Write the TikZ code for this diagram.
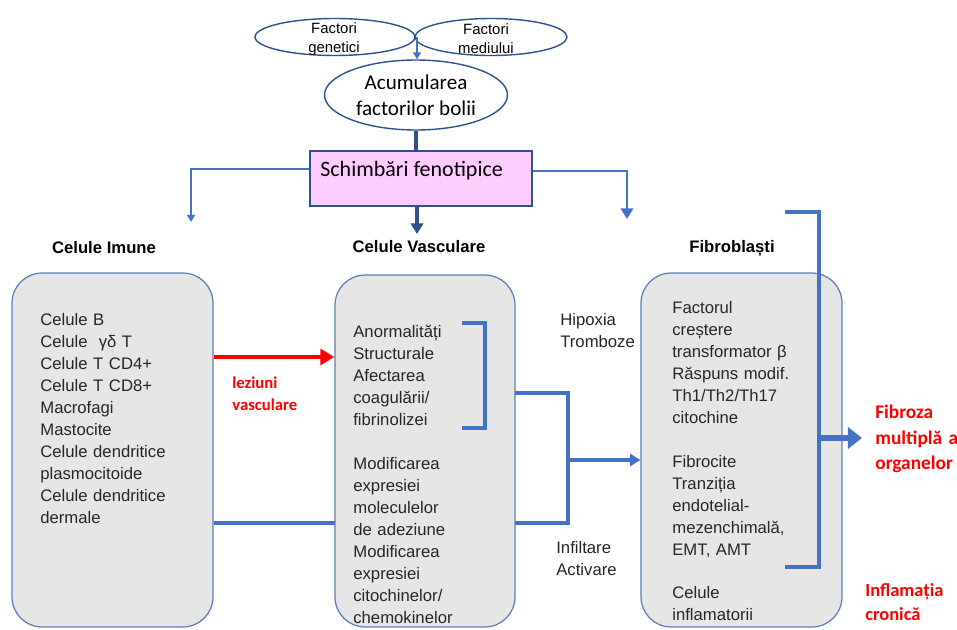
\documentclass[tikz,border=0pt]{standalone}
\usepackage{fontspec}
\setmainfont{Liberation Sans}
\newfontfamily\calibri{Carlito}
\usetikzlibrary{arrows.meta,shapes.geometric,backgrounds}
\definecolor{lineblue}{HTML}{4472C4}
\definecolor{darkblue}{HTML}{2F528F}
\definecolor{edgeblue}{HTML}{5B7DBB}
\definecolor{boxgrey}{HTML}{E6E6E6}
\definecolor{pinkfill}{HTML}{FFCCFF}
\definecolor{redtxt}{HTML}{FF0000}
\begin{document}
\begin{tikzpicture}[x=0.02cm,y=-0.02cm,
  ell/.style={ellipse, draw=darkblue, line width=0.8pt, fill=white, inner sep=0pt},
  cellbox/.style={draw=edgeblue, fill=boxgrey, rounded corners=0.6cm, line width=0.7pt, inner sep=0pt},
  body/.style={anchor=north west, align=left, text width=3.5cm, font=\fontsize{9.5}{12.5}\selectfont, inner sep=0pt, text=black!85},
  head/.style={font=\fontsize{9.5}{11}\selectfont\bfseries, inner sep=0pt},
  redlbl/.style={anchor=north west, align=left, text width=3cm, text=redtxt, inner sep=0pt},
  conn/.style={draw=lineblue, line width=1.9pt},
  thin/.style={draw=lineblue, line width=1.1pt},
  tip/.style={-{Triangle[length=6pt,width=7pt]}},
  smalltip/.style={-{Triangle[length=4pt,width=4.5pt]}}]
\useasboundingbox (0,0) rectangle (957,629);

% top ellipses
\node[ell, minimum width=3.2cm, minimum height=0.74cm] (gen) at (335,37) {};
\node[ell, minimum width=3.04cm, minimum height=0.74cm] (med) at (491,37) {};
\node[align=center, font=\fontsize{8.5}{10.8}\selectfont, inner sep=0pt] (gent) at (334,39) {Factori\\genetici};
\node[align=center, font=\fontsize{8.5}{10.8}\selectfont, inner sep=0pt] (medt) at (486,39) {Factori\\mediului};
\coordinate (meet) at (417,37);

\node[ell, minimum width=3.66cm, minimum height=1.4cm] (acc) at (416,95) {};
\node[align=center, font=\calibri\fontsize{12}{14.7}\selectfont, inner sep=0pt] (acct) at (416,95) {Acumularea\\factorilor bolii};

\draw[thin, smalltip] (meet) -- (acc.north -| meet);

% Schimbari box
\node[draw=darkblue, line width=1.6pt, fill=pinkfill, minimum width=4.44cm, minimum height=1.1cm, inner sep=0pt] (sch) at (421,178.5) {};
\node[anchor=west, font=\calibri\fontsize{12.5}{14}\selectfont, inner sep=0pt] (scht) at (320,171) {Schimbări fenotipice};

\draw[draw=darkblue, line width=1.8pt] (acc.south) -- (sch.north -| acc.south);
\coordinate (dl) at (191,222);
\coordinate (dr) at (627,219);
\coordinate (dc) at (417,234);
\draw[thin, smalltip] (sch.west |- 0,169) -| (dl);
\draw[thin, line width=1.4pt, tip] (sch.east |- 0,171) -| (dr);
\draw[draw=darkblue, line width=2pt, tip] (sch.south -| dc) -- (dc);

% column headings
\node[head] (hi) at (104,248) {Celule Imune};
\node[head] (hv) at (419,247) {Celule Vasculare};
\node[head] (hf) at (732,248) {Fibroblaști};

% boxes
\node[cellbox, minimum width=4.02cm, minimum height=7.08cm] (imm) at (112.5,450) {};
\node[cellbox, minimum width=3.6cm, minimum height=7.04cm] (vas) at (425,451) {};
\node[cellbox, minimum width=4.02cm, minimum height=7.08cm] (fib) at (741.5,450) {};

\node[body] (immt) at (40,313) {Celule B\\Celule \ γδ T\\Celule T CD4+\\Celule T CD8+\\Macrofagi\\Mastocite\\Celule dendritice\\plasmocitoide\\Celule dendritice\\dermale};
\node[body] (vast) at (353,325) {Anormalități\\Structurale\\Afectarea\\coagulării/\\fibrinolizei\\[12.5pt]Modificarea\\expresiei\\moleculelor\\de adeziune\\Modificarea\\expresiei\\citochinelor/\\chemokinelor};
\node[body] (fibt) at (672,301) {Factorul\\creștere\\transformator β\\Răspuns modif.\\Th1/Th2/Th17\\citochine\\[12.5pt]Fibrocite\\Tranziția\\endotelial-\\mezenchimală,\\EMT, AMT\\[12.5pt]Celule\\inflamatorii};

% side labels
\node[body] (hip) at (560,313) {Hipoxia\\Tromboze};
\node[body] (inf) at (556,541) {Infiltare\\Activare};
\node[redlbl, font=\calibri\bfseries\fontsize{9.5}{12.5}\selectfont] (lez) at (232,376) {leziuni\\vasculare};
\node[redlbl, font=\calibri\bfseries\fontsize{11}{14.4}\selectfont] (fibz) at (875,405) {Fibroza\\multiplă a\\organelor};
\node[redlbl, font=\calibri\bfseries\fontsize{10.5}{13.6}\selectfont] (infl) at (865,583) {Inflamația\\cronică};

% red arrow
\draw[draw=redtxt, line width=2.3pt, -{Triangle[length=8pt,width=9pt]}] (imm.east |- 0,357) -- (vas.west |- 0,357);

% vascular bracket and joins
\coordinate (b1) at (462,323);
\coordinate (b2) at (485,323);
\coordinate (b3) at (485,428);
\coordinate (b4) at (462,428);
\coordinate (bm) at (485,393);
\coordinate (j1) at (568,393);
\coordinate (j2) at (568,523);
\coordinate (j3) at (568,460);
\draw[conn] (b1) -- (b2) -- (b3) -- (b4);
\begin{pgfonlayer}{background}
\draw[conn] (bm) -- (j1) -- (j2) -- (imm.east |- j2);
\end{pgfonlayer}
\draw[conn] (vas.east |- j2) -- (j2);
\draw[conn, tip] (j3) -- (fib.west |- j3);

% fibroblast bracket
\coordinate (f1) at (785,212);
\coordinate (f2) at (819,212);
\coordinate (f3) at (819,567);
\coordinate (f4) at (785,567);
\coordinate (fm) at (819,438);
\coordinate (fe) at (862,438);
\draw[conn] (f1) -- (f2) -- (f3) -- (f4);
\draw[draw=lineblue, line width=3pt, -{Triangle[length=8pt,width=12pt]}] (fm) -- (fe);
\end{tikzpicture}
\end{document}
